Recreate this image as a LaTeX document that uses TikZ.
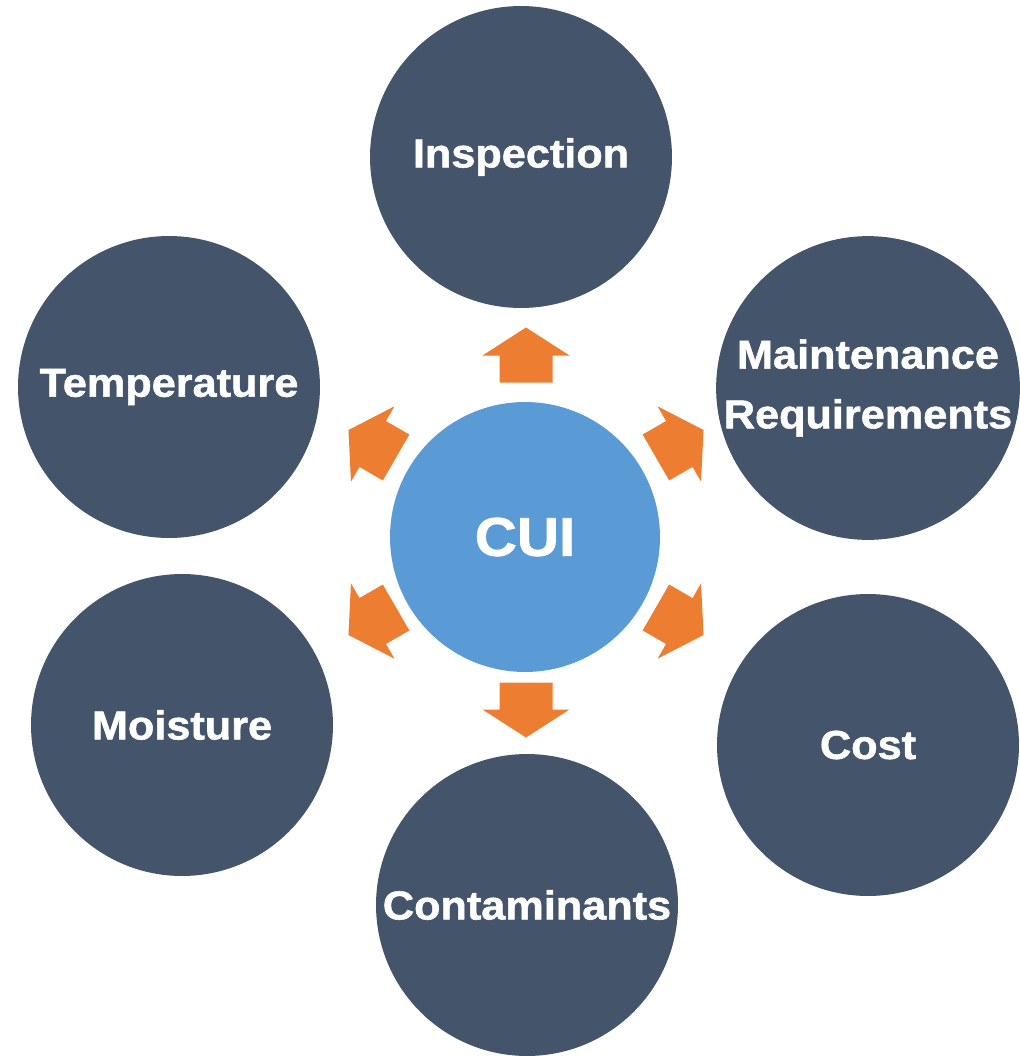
\documentclass[tikz,border=0pt]{standalone}
\usepackage{fontspec}
\usepackage{tikz}
\newfontfamily\heavyfont[FakeStretch=1.07,BoldFeatures={FakeBold=1.3}]{Liberation Sans}
\definecolor{slate}{HTML}{44546A}
\definecolor{cuiblue}{HTML}{5B9BD5}
\definecolor{orangearrow}{HTML}{ED7D31}

\begin{document}
\begin{tikzpicture}[x=0.02cm,y=-0.02cm]
    \tikzstyle{factor}=[circle,fill=slate,text=white,minimum size=6.04cm,inner sep=0pt,align=center,font=\heavyfont\bfseries\fontsize{23}{34}\selectfont]
    \tikzstyle{hub}=[circle,fill=cuiblue,text=white,minimum size=5.4cm,inner sep=0pt,font=\heavyfont\bfseries\fontsize{31}{36}\selectfont]
    \tikzstyle{blockarrow}=[fill=orangearrow]
    \useasboundingbox (0,0) rectangle (1020,1058);

    \node[hub] (cui) at (525,537) {CUI};
    \coordinate (spokes) at (526,532.5);

    \node[factor] (insp) at (521,157) {Inspection};
    \node[factor] (maint) at (868,388) {Maintenance\\Requirements};
    \node[factor] (cost) at (868,745) {Cost};
    \node[factor] (cont) at (527,905) {Contaminants};
    \node[factor] (moist) at (182,725) {Moisture};
    \node[factor] (temp) at (169,387) {Temperature};

    \foreach \a in {30,90,...,330} {
        \fill[blockarrow,shift={(spokes)},rotate=\a]
            (150,-26.5) -- (177,-26.5) -- (177,-43.5) -- (205,0)
            -- (177,43.5) -- (177,26.5) -- (150,26.5) -- cycle;
    };
\end{tikzpicture}
\end{document}
